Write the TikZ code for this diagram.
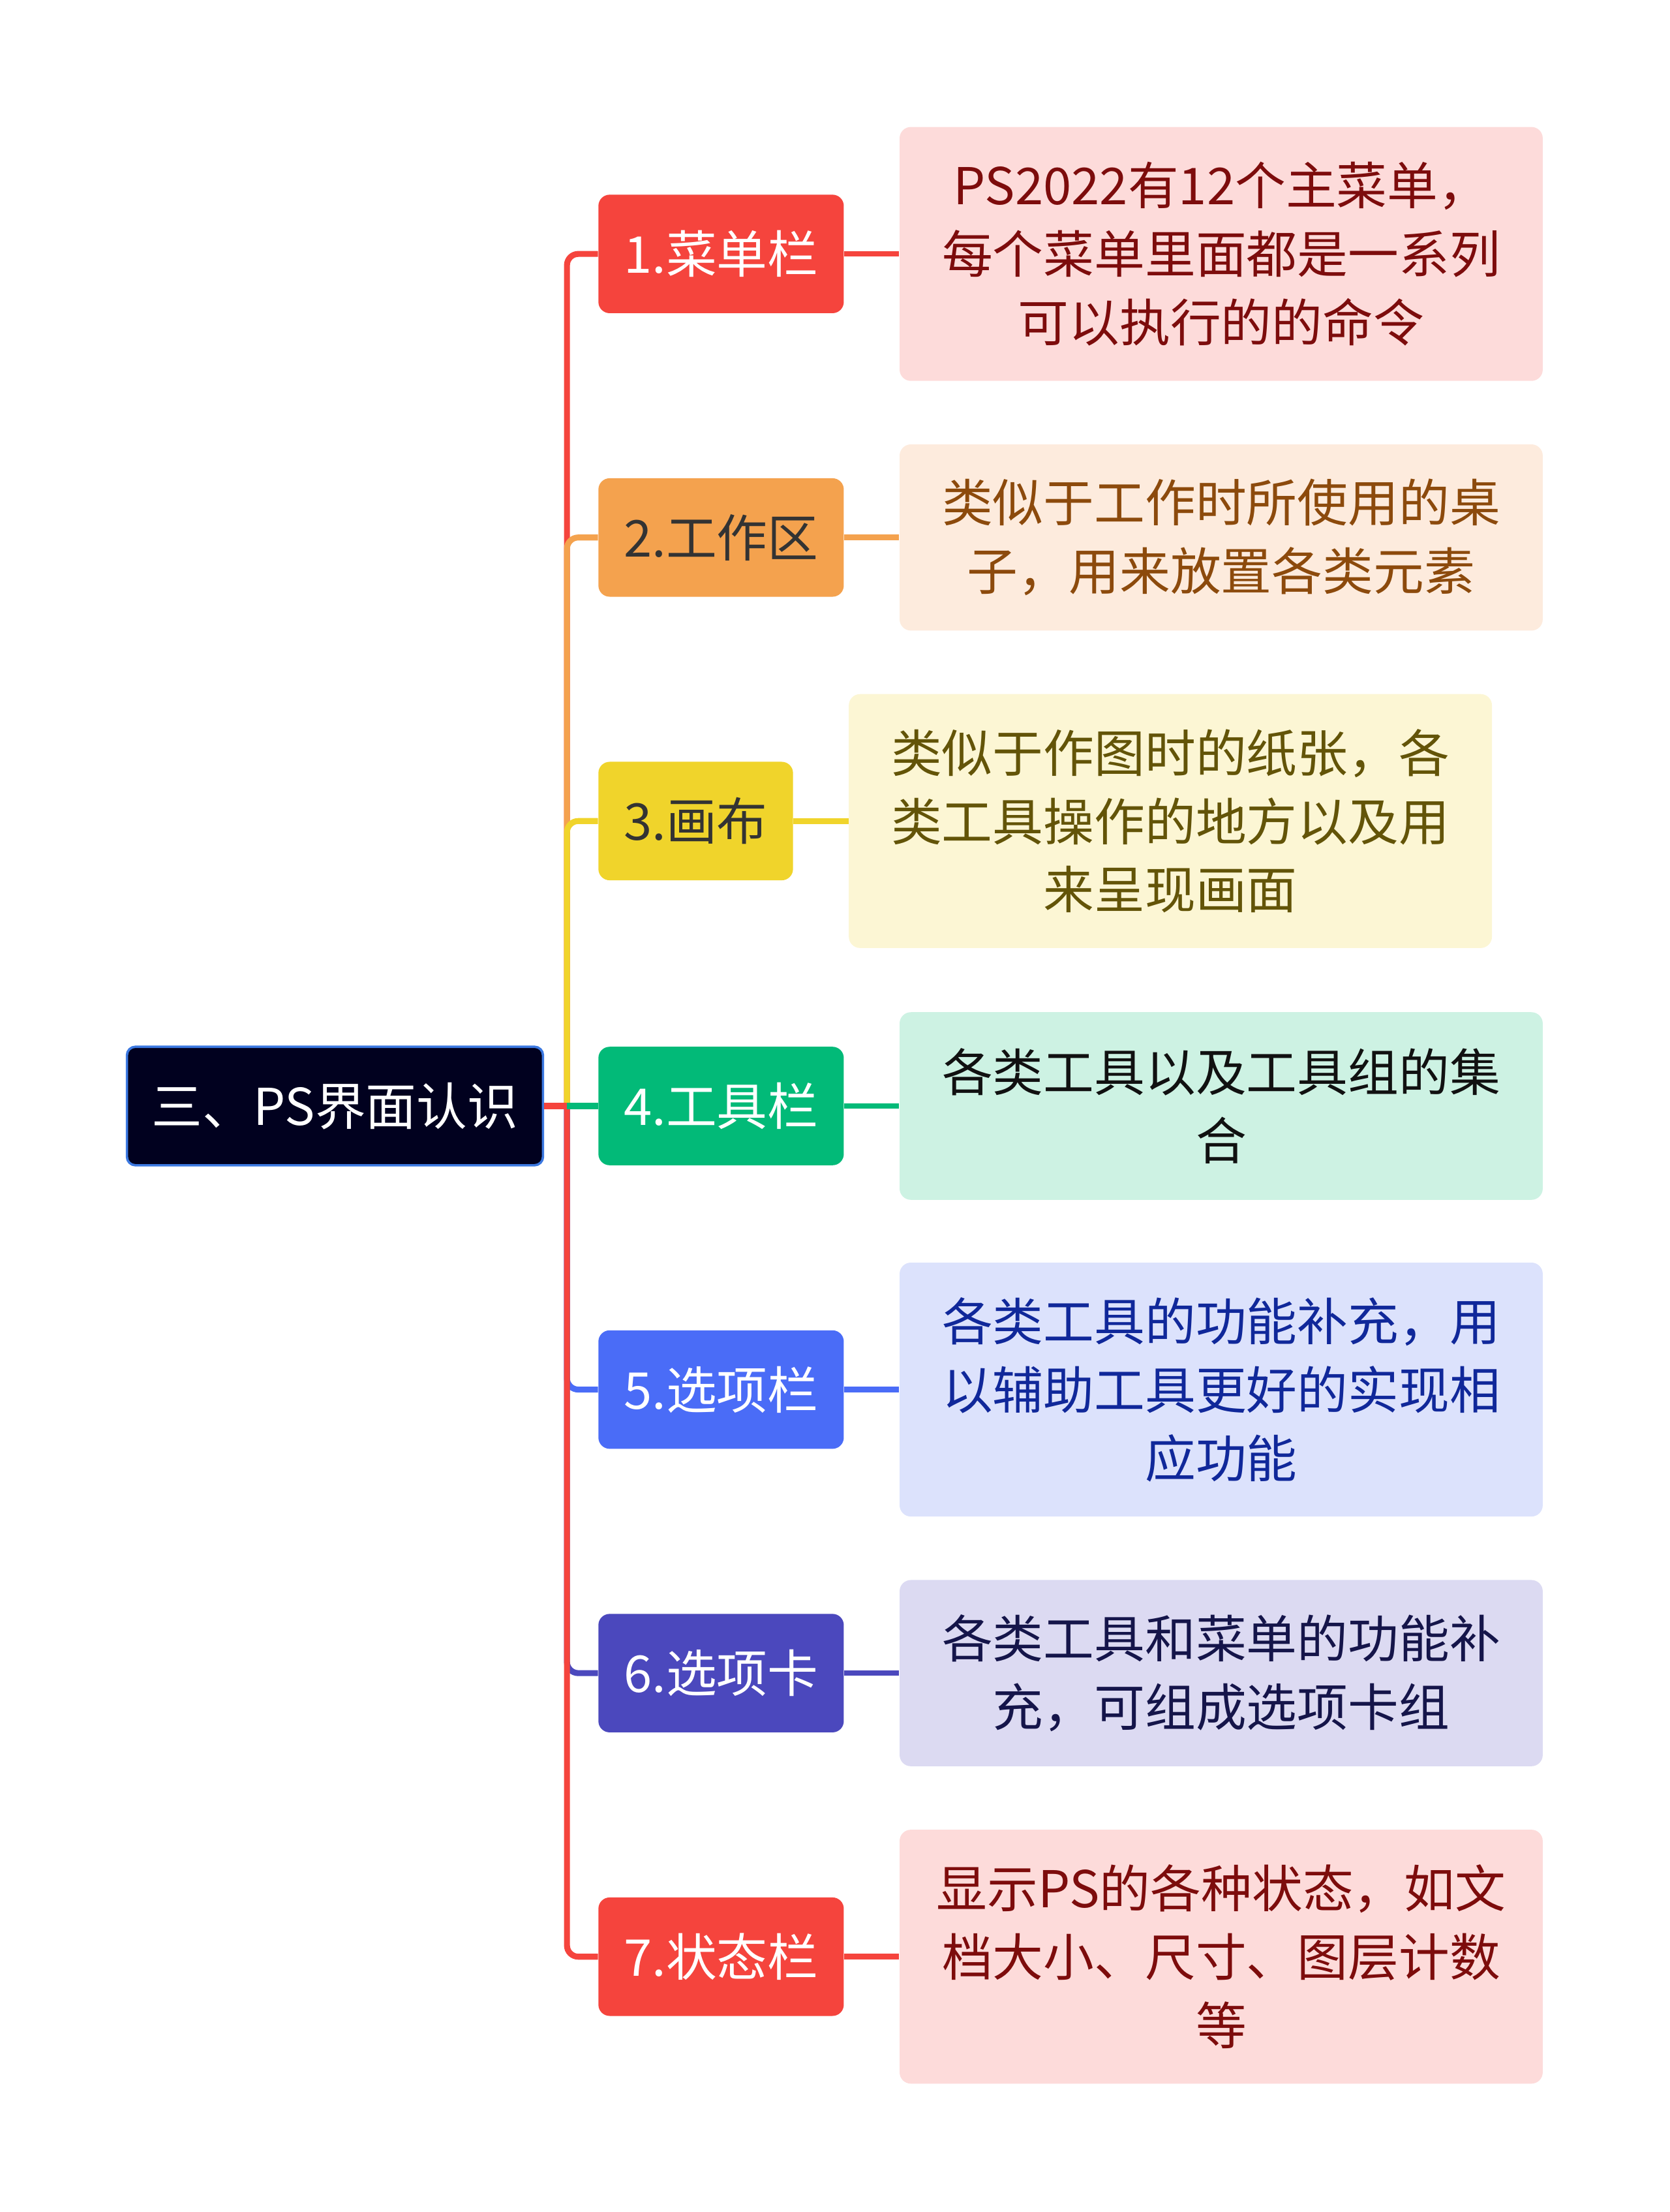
\documentclass[tikz,border=0pt]{standalone}
\usepackage{fontspec}
\setmainfont{Noto Sans CJK SC}
\usepackage{xcolor}
\usetikzlibrary{positioning}

\definecolor{rootfill}{HTML}{01011F}
\definecolor{rootline}{HTML}{3B78E0}
\definecolor{menured}{HTML}{F5443D}
\definecolor{workorange}{HTML}{F4A24E}
\definecolor{canvasyellow}{HTML}{F0D42B}
\definecolor{toolgreen}{HTML}{02BA78}
\definecolor{optblue}{HTML}{4A6CF7}
\definecolor{tabindigo}{HTML}{4B48BD}
\definecolor{darktext}{HTML}{333333}
\definecolor{menupink}{HTML}{FDDBDA}
\definecolor{workpeach}{HTML}{FDEBDD}
\definecolor{canvascream}{HTML}{FCF6D4}
\definecolor{toolmint}{HTML}{CDF2E3}
\definecolor{optpale}{HTML}{DCE2FC}
\definecolor{tablilac}{HTML}{DCDAF2}
\definecolor{menutext}{HTML}{7D0C0C}
\definecolor{worktext}{HTML}{8C4A0C}
\definecolor{canvastext}{HTML}{635408}
\definecolor{tooltext}{HTML}{111111}
\definecolor{opttext}{HTML}{10289A}
\definecolor{tabtext}{HTML}{15154A}

\begin{document}
\begin{tikzpicture}[
  font=\fontsize{25.6pt}{34.5pt}\selectfont,
  root/.style={rectangle, rounded corners=0.15cm, draw=rootline, line width=1.2pt, fill=rootfill, text=white, minimum width=7.375cm, minimum height=2.1cm},
  sub/.style={rectangle, rounded corners=0.2cm, anchor=west, minimum width=4.35cm, minimum height=2.1cm, text=white},
  leaf/.style={rectangle, rounded corners=0.2cm, align=center, text width=10.8cm, inner xsep=0.3cm, minimum height=#1},
  leaf/.default=4.5cm,
  branch/.style={line width=3pt, rounded corners=0.2cm},
  link/.style={line width=2.8pt}
]
\useasboundingbox (0,0) rectangle (29.6,-39.2);

\node[root] (root) at (5.9375,-19.6) {三、PS界面认识};
\coordinate (jn) at (10.05,-19.6);

\node[sub, fill=menured] (s1) at (10.6,-4.5) {1.菜单栏};
\node[sub, fill=workorange, text=darktext] (s2) at (10.6,-9.525) {2.工作区};
\node[sub, fill=canvasyellow, text=darktext, minimum width=3.45cm] (s3) at (10.6,-14.55) {3.画布};
\node[sub, fill=toolgreen] (s4) at (10.6,-19.6) {4.工具栏};
\node[sub, fill=optblue] (s5) at (10.6,-24.625) {5.选项栏};
\node[sub, fill=tabindigo] (s6) at (10.6,-29.65) {6.选项卡};
\node[sub, fill=menured] (s7) at (10.6,-34.675) {7.状态栏};

\node[leaf, fill=menupink, text=menutext, right=0.975cm of s1] (l1) {PS2022有12个主菜单，\\每个菜单里面都是一系列\\可以执行的的命令};
\node[leaf=3.3cm, fill=workpeach, text=worktext, right=0.975cm of s2] (l2) {类似于工作时所使用的桌\\子，用来放置各类元素};
\node[leaf, fill=canvascream, text=canvastext, right=0.975cm of s3] (l3) {类似于作图时的纸张，各\\类工具操作的地方以及用\\来呈现画面};
\node[leaf=3.325cm, fill=toolmint, text=tooltext, right=0.975cm of s4] (l4) {各类工具以及工具组的集\\合};
\node[leaf, fill=optpale, text=opttext, right=0.975cm of s5] (l5) {各类工具的功能补充，用\\以辅助工具更好的实现相\\应功能};
\node[leaf=3.3cm, fill=tablilac, text=tabtext, right=0.975cm of s6] (l6) {各类工具和菜单的功能补\\充，可组成选项卡组};
\node[leaf, fill=menupink, text=menutext, right=0.975cm of s7] (l7) {显示PS的各种状态，如文\\档大小、尺寸、图层计数\\等};

\foreach \n/\c in {1/menured,2/workorange,3/canvasyellow,5/optblue,6/tabindigo,7/menured}
  \draw[branch, \c] (jn) |- (s\n.west);
\draw[branch, toolgreen] (jn) -- (s4.west);
\draw[branch, menured] (root.east) -- (jn);

\foreach \n/\c in {1/menured,2/workorange,3/canvasyellow,4/toolgreen,5/optblue,6/tabindigo,7/menured}
  \draw[link, \c] (s\n.east) -- (l\n.west);

\end{tikzpicture}
\end{document}
